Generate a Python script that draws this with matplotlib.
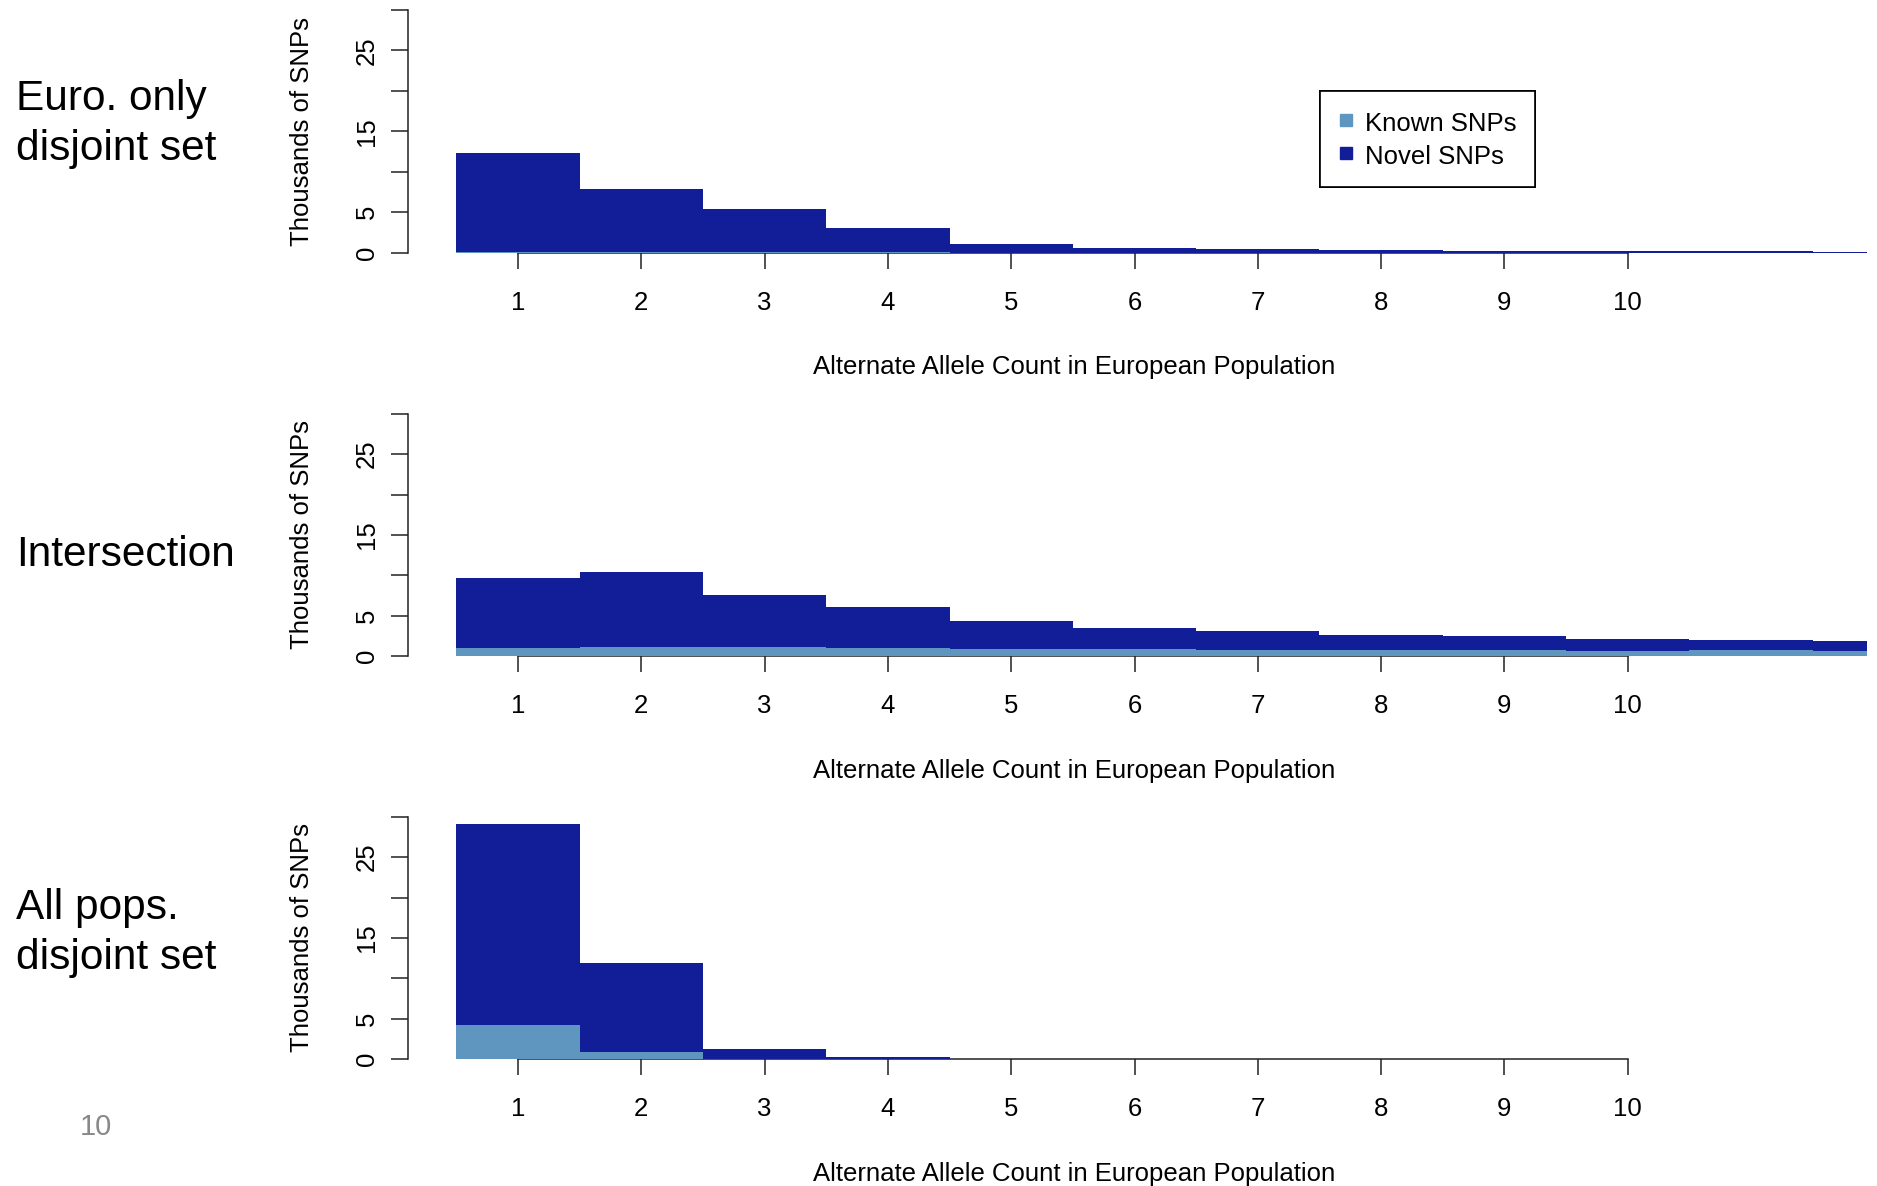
import matplotlib
matplotlib.use('Agg')
import matplotlib.pyplot as plt
from matplotlib.lines import Line2D
import numpy as np

plt.rcParams['font.family'] = ['Liberation Sans', 'DejaVu Sans']

# allele counts (bar 11 and 12 have no tick label)
counts = np.arange(1, 13)
tick_counts = [1, 2, 3, 4, 5, 6, 7, 8, 9, 10]

# thousands of SNPs
euro_known = [0.10, 0.04, 0.03, 0.02, 0.01, 0.01, 0.01, 0.01, 0.01, 0.01, 0.01, 0.01]
euro_novel = [12.2, 7.76, 5.32, 3.05, 1.11, 0.61, 0.39, 0.31, 0.24, 0.19, 0.14, 0.11]

inter_known = [1.07, 1.20, 1.15, 1.07, 0.95, 0.87, 0.82, 0.76, 0.74, 0.68, 0.72, 0.68]
inter_novel = [8.57, 9.20, 6.43, 5.07, 3.46, 2.67, 2.27, 1.92, 1.77, 1.46, 1.34, 1.17]

allpop_known = [4.24, 0.94, 0.05, 0.02, 0.01, 0.01, 0.01, 0.01, 0.01, 0.01, 0.01, 0.01]
allpop_novel = [24.81, 11.0, 1.19, 0.31, 0.04, 0.02, 0.01, 0.01, 0.01, 0.01, 0.02, 0.02]

panel_titles = ["Euro. only\ndisjoint set", "Intersection", "All pops.\ndisjoint set"]
yticks = [0, 5, 10, 15, 20, 25, 30]
ytick_labels = ["0", "5", "", "15", "", "25", ""]
xlabel = "Alternate Allele Count in European Population"
ylabel = "Thousands of SNPs"
legend_labels = ["Known SNPs", "Novel SNPs"]

known_col = "#5e96bf"
novel_col = "#111e98"

W, H = 1877, 1186
fig = plt.figure(figsize=(W / 100, H / 100), dpi=100)

left_px, right_px = 408, 1867
x1_px, step_px = 518, 123.3
px_per_unit = 8.09
bottoms_px = [252.6, 656.3, 1059.3]
title_y_px = [124, 555, 933]

xlim = (1 - (x1_px - left_px) / step_px, 1 + (right_px - x1_px) / step_px)
fs = 18.5

panels = [(euro_known, euro_novel), (inter_known, inter_novel), (allpop_known, allpop_novel)]
for i, (known, novel) in enumerate(panels):
    b = bottoms_px[i]
    h = 30 * px_per_unit
    ax = fig.add_axes([left_px / W, 1 - b / H, (right_px - left_px) / W, h / H])
    ax.bar(counts, known, width=1.0, color=known_col, linewidth=0)
    ax.bar(counts, novel, width=1.0, bottom=known, color=novel_col, linewidth=0)
    ax.set_xlim(*xlim)
    ax.set_ylim(0, 30)

    for s in ['top', 'right']:
        ax.spines[s].set_visible(False)
    ax.spines['left'].set_linewidth(1.1)
    ax.spines['bottom'].set_linewidth(1.1)
    ax.spines['left'].set_color('#222222')
    ax.spines['bottom'].set_color('#222222')
    ax.spines['bottom'].set_bounds(1, 10)
    ax.spines['bottom'].set_zorder(0.5)

    ax.set_xticks(tick_counts)
    ax.set_xticklabels([str(t) for t in tick_counts], fontsize=fs)
    ax.set_yticks(yticks)
    ax.set_yticklabels(ytick_labels, fontsize=fs, rotation=90, va='center')
    ax.tick_params(axis='x', length=11.5, width=1.1, pad=16, colors='#222222', labelcolor='black')
    ax.tick_params(axis='y', length=12, width=1.1, pad=9, colors='#222222', labelcolor='black')

    ax.text((302 - left_px) / (right_px - left_px), 0.5, ylabel, transform=ax.transAxes,
            rotation=90, ha='center', va='center', fontsize=fs)
    ax.text((897 * 1.197 - left_px) / (right_px - left_px), -114.5 / h, xlabel,
            transform=ax.transAxes, ha='center', va='center', fontsize=fs)

    handles = [Line2D([], [], marker='s', linestyle='none', markersize=8, color=c)
               for c in [known_col, novel_col]]
    leg = ax.legend(handles, legend_labels, loc='upper left',
                    bbox_to_anchor=((1320 - left_px) / (right_px - left_px), (b - 91) / h),
                    fontsize=fs, frameon=True, fancybox=False, framealpha=1,
                    edgecolor='black', borderpad=0.72, handlelength=0.55,
                    handletextpad=0.5, handleheight=1.2, labelspacing=0.22,
                    borderaxespad=0)
    leg.get_frame().set_linewidth(1.2)

    fig.text(16 / W, 1 - title_y_px[i] / H, panel_titles[i], fontsize=30.5,
             ha='left', va='center', linespacing=1.3)

fig.text(96 / W, 1 - 1127 / H, "10", fontsize=21, color='#888888', ha='center', va='center')

fig.savefig("out.png", dpi=100)
